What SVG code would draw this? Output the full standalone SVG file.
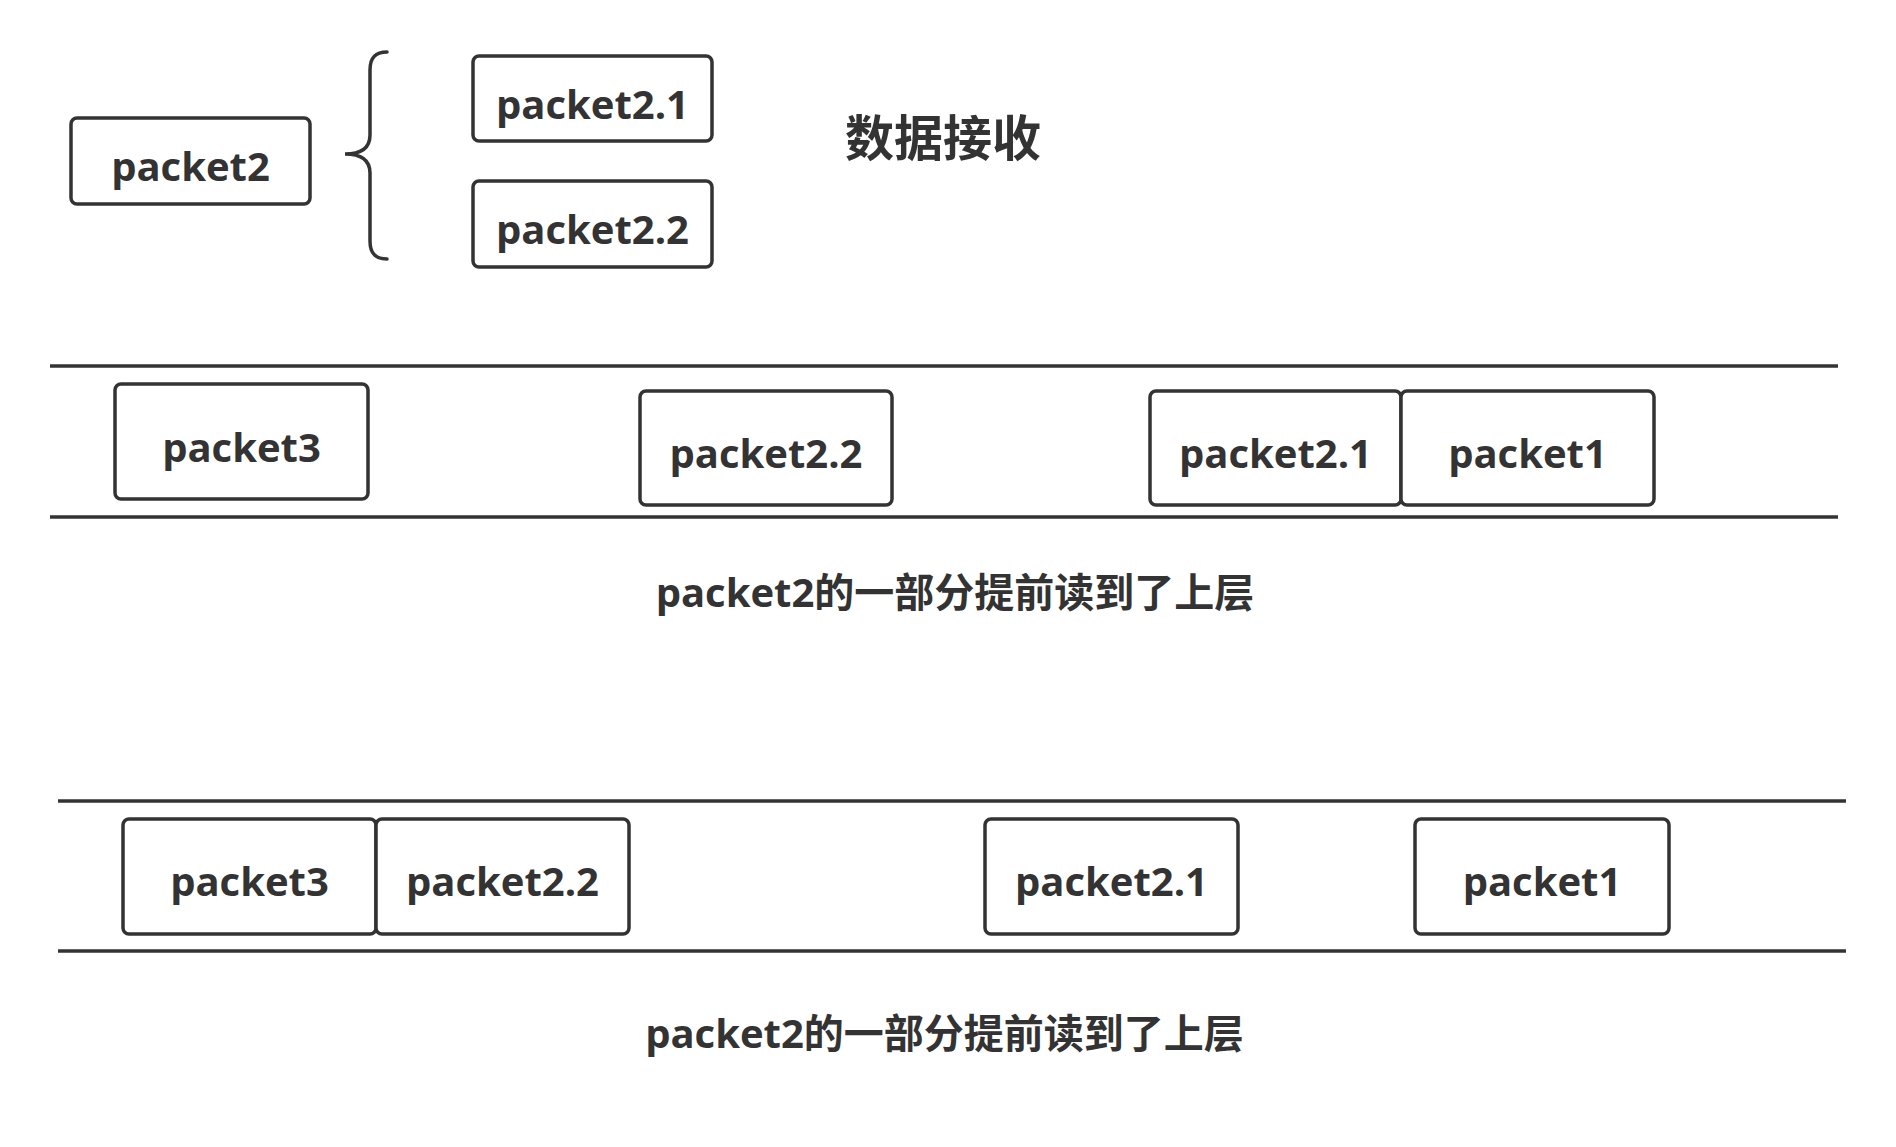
<svg xmlns="http://www.w3.org/2000/svg" width="1896" height="1147" viewBox="0 0 1896 1147">
<style>
.box{fill:#fff;stroke:#333;stroke-width:3.5}
.lbl{font-family:"Open Sans","Noto Sans CJK SC",sans-serif;font-weight:bold;font-size:40px;fill:#333;text-anchor:middle}
.cap{font-family:"Open Sans","Noto Sans CJK SC",sans-serif;font-weight:bold;font-size:40px;fill:#333;text-anchor:middle}
.rule{stroke:#333;stroke-width:3.5;fill:none}
</style>
<rect width="1896" height="1147" fill="#fff"/>
<g id="connectors">
<path class="rule" d="M387,52 C375,52 370,58 370,70 L370,135 C370,147 362,154 345,154 C362,154 370,161 370,173 L370,241 C370,253 375,259 387,259" stroke-linecap="round"/>
<line class="rule" x1="50" y1="366" x2="1838" y2="366"/>
<line class="rule" x1="50" y1="517" x2="1838" y2="517"/>
<line class="rule" x1="58" y1="801" x2="1846" y2="801"/>
<line class="rule" x1="58" y1="951" x2="1846" y2="951"/>
</g>
<g id="packet2"><rect class="box" x="71" y="118" width="239" height="86" rx="6"/><text class="lbl" x="190.5" y="181">packet2</text></g>
<g id="packet2-1-top"><rect class="box" x="473" y="56" width="239" height="85" rx="6"/><text class="lbl" x="592.5" y="119">packet2.1</text></g>
<g id="packet2-2-top"><rect class="box" x="473" y="181" width="239" height="86" rx="6"/><text class="lbl" x="592.5" y="244">packet2.2</text></g>
<g id="title"><text x="943" y="156" style="font-family:'Noto Sans CJK SC',sans-serif;font-weight:bold;font-size:49px;fill:#333;text-anchor:middle">数据接收</text></g>
<g id="r1-packet3"><rect class="box" x="115" y="384" width="253" height="115" rx="6"/><text class="lbl" x="241.5" y="462">packet3</text></g>
<g id="r1-packet2-2"><rect class="box" x="640" y="391" width="252" height="114" rx="6"/><text class="lbl" x="766" y="468">packet2.2</text></g>
<g id="r1-packet2-1"><rect class="box" x="1150" y="391" width="251" height="114" rx="6"/><text class="lbl" x="1275.5" y="468">packet2.1</text></g>
<g id="r1-packet1"><rect class="box" x="1401" y="391" width="253" height="114" rx="6"/><text class="lbl" x="1527.5" y="468">packet1</text></g>
<g id="caption1"><text class="cap" x="955" y="607">packet2的一部分提前读到了上层</text></g>
<g id="r2-packet3"><rect class="box" x="123" y="819" width="253" height="115" rx="6"/><text class="lbl" x="249.5" y="896">packet3</text></g>
<g id="r2-packet2-2"><rect class="box" x="376" y="819" width="253" height="115" rx="6"/><text class="lbl" x="502.5" y="896">packet2.2</text></g>
<g id="r2-packet2-1"><rect class="box" x="985" y="819" width="253" height="115" rx="6"/><text class="lbl" x="1111.5" y="896">packet2.1</text></g>
<g id="r2-packet1"><rect class="box" x="1415" y="819" width="254" height="115" rx="6"/><text class="lbl" x="1542" y="896">packet1</text></g>
<g id="caption2"><text class="cap" x="944.5" y="1048">packet2的一部分提前读到了上层</text></g>
</svg>
